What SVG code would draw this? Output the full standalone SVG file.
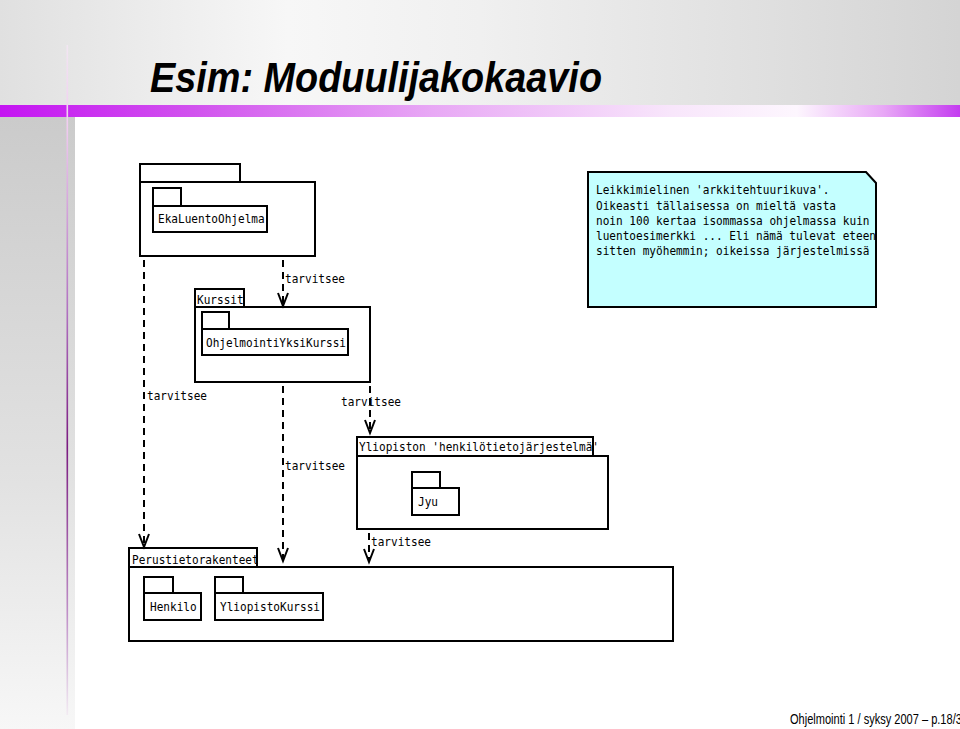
<svg xmlns="http://www.w3.org/2000/svg" width="960" height="729" viewBox="0 0 960 729">
<defs>
<linearGradient id="hdr" x1="0" y1="0" x2="1" y2="0">
<stop offset="0" stop-color="#e0e0e0"/>
<stop offset="0.3" stop-color="#f7f7f7"/>
<stop offset="0.5" stop-color="#f0f0f0"/>
<stop offset="1" stop-color="#d4d4d4"/>
</linearGradient>
<linearGradient id="bar" x1="0" y1="0" x2="1" y2="0">
<stop offset="0" stop-color="#c414f2"/>
<stop offset="0.2" stop-color="#d152ee"/>
<stop offset="0.45" stop-color="#e8a8f5"/>
<stop offset="0.7" stop-color="#f8e6fb"/>
<stop offset="0.83" stop-color="#fdf6fe"/>
<stop offset="0.92" stop-color="#e8a8f6"/>
<stop offset="1" stop-color="#c43cf0"/>
</linearGradient>
<linearGradient id="strip" x1="0" y1="0" x2="0" y2="1">
<stop offset="0" stop-color="#cbcbcb"/>
<stop offset="0.6" stop-color="#e2e2e2"/>
<stop offset="1" stop-color="#f7f7f7"/>
</linearGradient>
<linearGradient id="vline" x1="0" y1="0" x2="0" y2="1">
<stop offset="0" stop-color="#f2e6f2"/>
<stop offset="0.12" stop-color="#f0ccf0"/>
<stop offset="0.4" stop-color="#b070c0"/>
<stop offset="0.6" stop-color="#7a1a80"/>
<stop offset="0.85" stop-color="#c090c8"/>
<stop offset="1" stop-color="#f2eaf2"/>
</linearGradient>
<marker id="arr" markerUnits="userSpaceOnUse" markerWidth="16" markerHeight="14" viewBox="-14 -7 16 14" refX="0" refY="0" orient="auto" overflow="visible">
<path d="M-13,-5 L0,0 L-13,5" fill="none" stroke="#000" stroke-width="2"/>
</marker>
<style>
.pkg { fill: none; stroke: #000; stroke-width: 2; }
.lbl { font-family: "DejaVu Sans Mono", "Liberation Mono", monospace; font-size: 12.3px; fill: #000; }
.dep { fill: none; stroke: #000; stroke-width: 2; stroke-dasharray: 7 5; marker-end: url(#arr); }
.note { fill: #c4ffff; stroke: #000; stroke-width: 2; }
</style>
</defs>

<g id="background">
<rect x="0" y="0" width="960" height="729" fill="#ffffff"/>
<rect x="0" y="0" width="960" height="105" fill="url(#hdr)"/>
<rect x="0" y="117" width="75" height="612" fill="url(#strip)"/>
<rect x="0" y="105" width="960" height="12" fill="url(#bar)"/>
<rect x="66.5" y="45" width="1.6" height="670" fill="url(#vline)"/>
<text x="150" y="92" font-family="Liberation Sans, Arial, sans-serif" font-weight="bold" font-style="italic" font-size="42" textLength="452" lengthAdjust="spacingAndGlyphs" fill="#000">Esim: Moduulijakokaavio</text>
<text x="790" y="724" font-family="Liberation Sans, Arial, sans-serif" font-size="14" textLength="178" lengthAdjust="spacingAndGlyphs" fill="#000">Ohjelmointi 1 / syksy 2007 – p.18/32</text>
</g>

<g id="connectors">
<path class="dep" d="M144,260 V547"/>
<path class="dep" d="M283,260 V306"/>
<path class="dep" d="M283,386 V561"/>
<path class="dep" d="M370,386 V433"/>
<path class="dep" d="M369,533 V562"/>
<text class="lbl" x="147" y="400" textLength="60" lengthAdjust="spacingAndGlyphs">tarvitsee</text>
<text class="lbl" x="285" y="283" textLength="60" lengthAdjust="spacingAndGlyphs">tarvitsee</text>
<text class="lbl" x="285" y="470" textLength="60" lengthAdjust="spacingAndGlyphs">tarvitsee</text>
<text class="lbl" x="341" y="406" textLength="60" lengthAdjust="spacingAndGlyphs">tarvitsee</text>
<text class="lbl" x="371" y="546" textLength="60" lengthAdjust="spacingAndGlyphs">tarvitsee</text>
</g>

<g id="pkg-top">
<rect class="pkg" x="140" y="164" width="100" height="18"/>
<rect class="pkg" x="140" y="182" width="175" height="74"/>
</g>
<g id="pkg-ekaluento">
<rect class="pkg" x="153" y="188" width="28" height="18"/>
<rect class="pkg" x="153" y="206" width="114" height="26"/>
<text class="lbl" x="158" y="223" textLength="106.7" lengthAdjust="spacingAndGlyphs">EkaLuentoOhjelma</text>
</g>

<g id="pkg-kurssit">
<rect class="pkg" x="195" y="289" width="49" height="18"/>
<rect class="pkg" x="195" y="307" width="175" height="75"/>
<text class="lbl" x="197" y="304" textLength="46.7" lengthAdjust="spacingAndGlyphs">Kurssit</text>
</g>
<g id="pkg-ohjelmointiyksikurssi">
<rect class="pkg" x="202" y="312" width="27" height="17"/>
<rect class="pkg" x="202" y="329" width="146" height="26"/>
<text class="lbl" x="206" y="347" textLength="140" lengthAdjust="spacingAndGlyphs">OhjelmointiYksiKurssi</text>
</g>

<g id="note">
<polygon class="note" points="588,172 866,172 876,183 876,307 588,307"/>
<text class="lbl" x="596" y="194" textLength="233.5" lengthAdjust="spacingAndGlyphs">Leikkimielinen 'arkkitehtuurikuva'.</text>
<text class="lbl" x="596" y="209.5" textLength="240" lengthAdjust="spacingAndGlyphs">Oikeasti tällaisessa on mieltä vasta</text>
<text class="lbl" x="596" y="225" textLength="273.5" lengthAdjust="spacingAndGlyphs">noin 100 kertaa isommassa ohjelmassa kuin</text>
<text class="lbl" x="596" y="240" textLength="280" lengthAdjust="spacingAndGlyphs">luentoesimerkki ... Eli nämä tulevat eteen</text>
<text class="lbl" x="596" y="255" textLength="273.5" lengthAdjust="spacingAndGlyphs">sitten myöhemmin; oikeissa järjestelmissä</text>
</g>

<g id="pkg-yliopiston">
<rect class="pkg" x="357" y="437" width="236" height="19"/>
<rect class="pkg" x="357" y="456" width="251" height="73"/>
<text class="lbl" x="359" y="451" textLength="240" lengthAdjust="spacingAndGlyphs">Yliopiston 'henkilötietojärjestelmä'</text>
</g>
<g id="pkg-jyu">
<rect class="pkg" x="412" y="472" width="28" height="16"/>
<rect class="pkg" x="412" y="488" width="47" height="27"/>
<text class="lbl" x="418" y="506" textLength="20" lengthAdjust="spacingAndGlyphs">Jyu</text>
</g>

<g id="pkg-perustietorakenteet">
<rect class="pkg" x="129" y="548" width="128" height="19"/>
<rect class="pkg" x="129" y="567" width="544" height="74"/>
<text class="lbl" x="132" y="564" textLength="126.7" lengthAdjust="spacingAndGlyphs">Perustietorakenteet</text>
</g>
<g id="pkg-henkilo">
<rect class="pkg" x="144" y="577" width="29" height="16"/>
<rect class="pkg" x="144" y="593" width="57" height="27"/>
<text class="lbl" x="150" y="611" textLength="46.7" lengthAdjust="spacingAndGlyphs">Henkilo</text>
</g>
<g id="pkg-yliopistokurssi">
<rect class="pkg" x="215" y="577" width="28" height="16"/>
<rect class="pkg" x="215" y="593" width="108" height="27"/>
<text class="lbl" x="220" y="611" textLength="100" lengthAdjust="spacingAndGlyphs">YliopistoKurssi</text>
</g>
</svg>
